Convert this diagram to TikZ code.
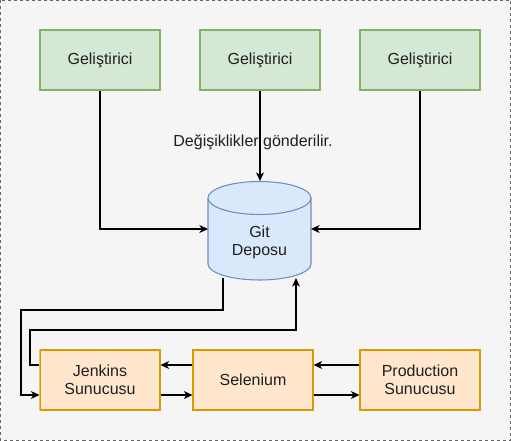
\documentclass[tikz,border=0pt]{standalone}
\usepackage{fontspec}
\setmainfont{Liberation Sans}
\usetikzlibrary{arrows.meta}
\definecolor{bgfill}{HTML}{F5F5F5}
\definecolor{bgline}{HTML}{666666}
\definecolor{gfill}{HTML}{D5E8D4}
\definecolor{gline}{HTML}{82B366}
\definecolor{ofill}{HTML}{FFE6CC}
\definecolor{oline}{HTML}{D79B00}
\definecolor{jline}{HTML}{EBC25A}
\definecolor{bfill}{HTML}{DAE8FC}
\definecolor{bline}{HTML}{6C8EBF}
\tikzset{
  txt/.style={font=\fontsize{12pt}{13.5pt}\selectfont, text=black!88},
  devbox/.style={txt, draw=gline, fill=gfill, line width=0.8pt, minimum width=120*0.75pt, minimum height=60*0.75pt, inner sep=0pt, align=center},
  srvbox/.style={txt, draw=oline, fill=ofill, line width=0.8pt, minimum width=120*0.75pt, minimum height=60*0.75pt, inner sep=0pt, align=center},
  conn/.style={draw=black, line width=0.9pt, -{Stealth[length=6.5pt,width=6pt,inset=2pt]}},
}
\begin{document}
\begin{tikzpicture}[x=0.75pt,y=-0.75pt]
\useasboundingbox (0,0) rectangle (511,441);
\draw[draw=bgline, fill=bgfill, dash pattern=on 2.25pt off 2.25pt, line width=0.6pt] (0.5,0.5) rectangle (510.5,440.5);

% developers
\node[devbox] (d1) at (100,60) {Geliştirici};
\node[devbox] (d2) at (260,60) {Geliştirici};
\node[devbox] (d3) at (420,60) {Geliştirici};

% cylinder
\draw[draw=bline, fill=bfill, line width=0.8pt]
  (208,198) -- (208,264) arc[start angle=180, end angle=0, x radius=51.5, y radius=16]
  -- (311,198);
\draw[draw=bline, fill=bfill, line width=0.8pt]
  (259.5,198) ellipse[x radius=51.5, y radius=16.5];
\node[inner sep=0pt, minimum width=103*0.75pt, minimum height=99*0.75pt] (git) at (259.5,230.5) {};
\node[txt, align=center] (gitlbl) at (259.5,242) {Git\\Deposu};
\coordinate (gtop) at (260,181);
\coordinate (gleft) at (208,229);
\coordinate (gright) at (311,229);
\coordinate (gbl) at (223,278);
\coordinate (gbr) at (296,278);

% servers
\node[srvbox] (jen) at (100,380) {Jenkins\\Sunucusu};
\draw[draw=jline, line width=0.8pt] (jen.south west) -- (jen.north west);
\node[srvbox] (sel) at (253,380) {Selenium};
\node[srvbox] (prod) at (420,380) {Production\\Sunucusu};

% developer arrows
\draw[conn] (d1.south) |- (gleft);
\draw[conn] (d3.south) |- (gright);
\draw[conn] (d2.south) -- (gtop);
\node[txt] (lbl) at (253,142) {Değişiklikler gönderilir.};

% git <-> jenkins
\coordinate (a1) at (223,310);
\coordinate (a2) at (21,310);
\coordinate (a3) at (21,395);
\draw[conn] (gbl) -- (a1) -- (a2) -- (a3) -- (jen.west |- a3);
\coordinate (b1) at (30,365);
\coordinate (b2) at (30,330);
\coordinate (b3) at (296,330);
\draw[conn] (jen.west |- b1) -- (b1) -- (b2) -- (b3) -- (gbr);

% servers arrows
\draw[conn] (sel.west |- 0,365) -- (jen.east |- 0,365);
\draw[conn] (jen.east |- 0,395) -- (sel.west |- 0,395);
\draw[conn] (prod.west |- 0,365) -- (sel.east |- 0,365);
\draw[conn] (sel.east |- 0,395) -- (prod.west |- 0,395);
\end{tikzpicture}
\end{document}
